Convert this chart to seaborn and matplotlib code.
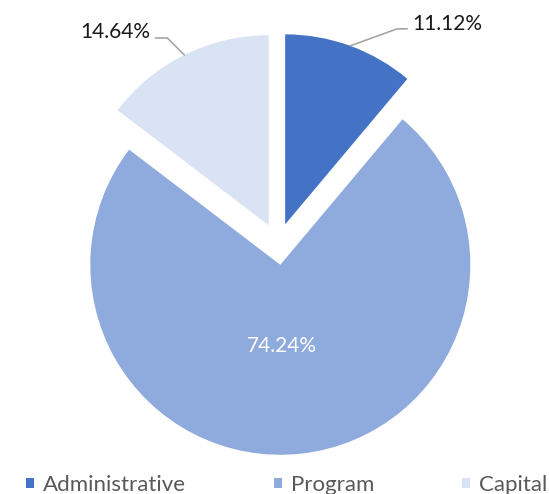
import numpy as np
import matplotlib
matplotlib.use("Agg")
import matplotlib.pyplot as plt
import seaborn as sns

categories = ["Administrative", "Program", "Capital"]
shares = [11.12, 74.24, 14.64]
pct_labels = ["11.12%", "74.24%", "14.64%"]
colors = ["#4472C4", "#8FAADC", "#DAE3F3"]

sns.set_theme(style="white")
plt.rcParams['font.family'] = ['Lato', 'DejaVu Sans']

W, H, dpi = 549, 494, 100
R = 190.0
cx, cy = 278.0, 244.0

fig = plt.figure(figsize=(W / dpi, H / dpi), dpi=dpi)
fig.patch.set_facecolor("white")
ax = fig.add_axes([0, 0, 1, 1])
wedges, _ = ax.pie(shares, colors=colors, explode=[0.11] * 3, startangle=90,
                   counterclock=False, radius=1, wedgeprops=dict(linewidth=0))
ax.set_xlim(-cx / R, (W - cx) / R)
ax.set_ylim(-(H - cy) / R, cy / R)
ax.set_aspect('auto')
ax.axis('off')

line_col = "#A6A6A6"
txt_col = "#1A1A1A"
fs = 15

def px(v):
    return v / R

for i, w in enumerate(wedges):
    mid = np.deg2rad((w.theta1 + w.theta2) / 2)
    c = np.array(w.center)
    if i == 1:
        pos = c + 0.43 * np.array([np.cos(mid), np.sin(mid)])
        ax.text(pos[0] - px(7), pos[1], pct_labels[i], color="white", fontsize=fs,
                ha="center", va="center")
        continue
    a = c + w.r * np.array([np.cos(mid), np.sin(mid)])
    if i == 0:
        elbow = a + np.array([px(47), px(17)])
        end = elbow + np.array([px(10), 0])
        ax.plot([a[0], elbow[0], end[0]], [a[1], elbow[1], end[1]], color=line_col, lw=1.2)
        ax.text(end[0] + px(5), end[1] - px(1), pct_labels[i], color=txt_col, fontsize=fs,
                ha="left", va="baseline")
    else:
        elbow = a + np.array([px(-17), px(17)])
        end = elbow + np.array([px(-12), 0])
        ax.plot([a[0], elbow[0], end[0]], [a[1], elbow[1], end[1]], color=line_col, lw=1.2)
        ax.text(end[0] - px(5), end[1], pct_labels[i], color=txt_col, fontsize=fs,
                ha="right", va="baseline")

leg = fig.legend(wedges, categories, loc='center left', bbox_to_anchor=(26 / W, 1 - 485 / H),
                 ncol=3, frameon=False, fontsize=16, handlelength=0.36, handleheight=0.36,
                 handletextpad=0.4, columnspacing=3.95, borderpad=0, borderaxespad=0)
for t in leg.get_texts():
    t.set_color('#595959')

fig.savefig("out.png", dpi=dpi, facecolor="white")
